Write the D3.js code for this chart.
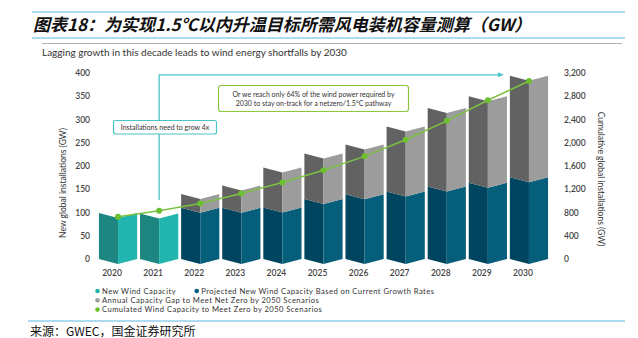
<!DOCTYPE html>
<html>
<head>
<meta charset="utf-8">
<script src="https://cdn.jsdelivr.net/npm/d3@7/dist/d3.min.js"></script>
<style>
  html, body { margin: 0; padding: 0; background: #fff; }
  svg { display: block; }
</style>
</head>
<body>
<svg id="chart" width="638" height="338"></svg>
<script>
// Years on the category axis
const years = ["2020", "2021", "2022", "2023", "2024", "2025", "2026", "2027", "2028", "2029", "2030"];
// Historical new wind installations (GW)
const newCapacity = [99, 98, 0, 0, 0, 0, 0, 0, 0, 0, 0];
// Projected new installations at current growth rates (GW)
const projected = [0, 0, 110, 110, 111, 129, 139, 145, 156, 164, 176];
// Annual gap to a net-zero-by-2050 pathway (GW)
const gap = [0, 0, 30, 48, 86, 98, 107, 140, 169, 186, 218];
// Cumulative capacity required (GW, right axis)
const cumulative = [725, 830, 956, 1128, 1317, 1526, 1766, 2051, 2377, 2731, 3063];
// Axis ticks
const leftTicks = [0, 50, 100, 150, 200, 250, 300, 350, 400];
const rightTicks = [0, 400, 800, 1200, 1600, 2000, 2400, 2800, 3200];

const svg = d3.select("#chart");
const font = 'Lato, "Open Sans", "DejaVu Sans", sans-serif';
const cjk = '"Noto Sans CJK SC", "Noto Sans", sans-serif';

// ---- header ----
svg.append("line").attr("x1", 32).attr("x2", 625).attr("y1", 12).attr("y2", 12)
  .attr("stroke", "#8fd0ef").attr("stroke-width", 1.6);
svg.append("line").attr("x1", 32).attr("x2", 625).attr("y1", 38).attr("y2", 38)
  .attr("stroke", "#8fd0ef").attr("stroke-width", 1.6);
svg.append("text").attr("x", 33).attr("y", 31)
  .attr("font-family", cjk).attr("font-size", 17).attr("font-weight", "bold")
  .attr("font-style", "italic").attr("fill", "#111")
  .text("图表18：为实现1.5℃以内升温目标所需风电装机容量测算（GW）");
svg.append("line").attr("x1", 42).attr("x2", 622).attr("y1", 43.5).attr("y2", 43.5)
  .attr("stroke", "#aab4bb").attr("stroke-width", 1);
svg.append("text").attr("x", 42).attr("y", 55.5)
  .attr("font-family", font).attr("font-size", 10).attr("fill", "#333")
  .text("Lagging growth in this decade leads to wind energy shortfalls by 2030");

// ---- scales ----
const x = d3.scaleBand().domain(years).range([97.5, 549.5]).paddingInner(0.07).paddingOuter(0.035);
const yL = d3.scaleLinear().domain([0, 400]).range([259, 73]);
const yR = d3.scaleLinear().domain([0, 3200]).range([259, 73]);
const fold = 5;

// ---- axes (labels only) ----
const axL = svg.append("g").attr("transform", "translate(90,0)")
  .call(d3.axisLeft(yL).tickValues(leftTicks).tickSize(0).tickPadding(0));
const axR = svg.append("g").attr("transform", "translate(564,0)")
  .call(d3.axisRight(yR).tickValues(rightTicks).tickSize(0).tickPadding(0)
    .tickFormat(d3.format(",")));
[axL, axR].forEach(g => {
  g.select(".domain").remove();
  g.selectAll("text").attr("font-family", font).attr("font-size", 8.5)
    .attr("fill", "#444").attr("font-weight", 600);
});
svg.append("text").attr("transform", "translate(66,183) rotate(-90)")
  .attr("text-anchor", "middle").attr("font-family", font).attr("font-size", 8.5)
  .attr("fill", "#333").text("New global installations (GW)");
svg.append("text").attr("transform", "translate(598,179) rotate(90)")
  .attr("text-anchor", "middle").attr("font-family", font).attr("font-size", 8.5)
  .attr("fill", "#333").text("Cumulative global installations (GW)");

const axX = svg.append("g").attr("transform", "translate(-6,273)")
  .call(d3.axisBottom(x).tickSize(0).tickPadding(0));
axX.select(".domain").remove();
axX.selectAll("text").attr("font-family", font).attr("font-size", 8.5)
  .attr("fill", "#444").attr("font-weight", 600).attr("dy", "0.35em");

// ---- folded bars ----
// Each segment is split into a darker left face and a lighter right face,
// with the centre crease pushed down to give a folded look.
function faces(x0, w, yTop, yBot) {
  const xc = x0 + w / 2, x1 = x0 + w;
  const left = [[x0, yTop], [xc, yTop + fold], [xc, yBot + fold], [x0, yBot]];
  const right = [[xc, yTop + fold], [x1, yTop], [x1, yBot], [xc, yBot + fold]];
  return [left, right];
}
const segs = [];
years.forEach((yr, i) => {
  const x0 = x(yr), w = x.bandwidth();
  if (newCapacity[i] > 0) {
    segs.push({ x0, w, top: newCapacity[i], base: 0, cols: ["#1d8680", "#22b5b0"] });
  }
  if (projected[i] > 0) {
    segs.push({ x0, w, top: projected[i], base: 0, cols: ["#00455f", "#055f7a"] });
    segs.push({ x0, w, top: projected[i] + gap[i], base: projected[i], cols: ["#626262", "#9c9c9c"] });
  }
});
const line = d3.line();
const gBars = svg.append("g");
segs.forEach(s => {
  const [l, r] = faces(s.x0, s.w, yL(s.top), yL(s.base));
  gBars.append("path").attr("d", line(l) + "Z").attr("fill", s.cols[0]);
  gBars.append("path").attr("d", line(r) + "Z").attr("fill", s.cols[1]);
});

// ---- cumulative line ----
const pts = years.map((yr, i) => [x(yr) + x.bandwidth() / 2, yR(cumulative[i])]);
svg.append("path").attr("d", d3.line()(pts)).attr("fill", "none")
  .attr("stroke", "#7cc242").attr("stroke-width", 1.5);
svg.append("g").selectAll("circle").data(pts).join("circle")
  .attr("cx", d => d[0]).attr("cy", d => d[1]).attr("r", 3).attr("fill", "#6cbf2f");

// ---- annotations ----
const teal = "#4cc3c7";
const cx21 = x("2021") + x.bandwidth() / 2;
const arrowEnd = x("2030") - 6;
svg.append("path")
  .attr("d", `M${cx21},${yL(127)} V${yL(396)} H${arrowEnd - 5}`)
  .attr("fill", "none").attr("stroke", teal).attr("stroke-width", 1.3);
svg.append("path")
  .attr("d", `M${arrowEnd},${yL(396)} l-6,-2.5 v5 Z`).attr("fill", teal);

svg.append("rect").attr("x", 113.5).attr("y", 120.5).attr("width", 103).attr("height", 13.5)
  .attr("rx", 2).attr("fill", "#fff").attr("stroke", teal).attr("stroke-width", 1.2);
svg.append("text").attr("x", 165).attr("y", 129.8).attr("text-anchor", "middle")
  .attr("font-family", font).attr("font-size", 7).attr("fill", "#333")
  .text("Installations need to grow 4x");

svg.append("rect").attr("x", 218.5).attr("y", 85.5).attr("width", 190).attr("height", 26)
  .attr("rx", 2.5).attr("fill", "#fff").attr("stroke", "#8cc63f").attr("stroke-width", 1.2);
svg.append("text").attr("x", 313.5).attr("y", 96.5).attr("text-anchor", "middle")
  .attr("font-family", font).attr("font-size", 7).attr("fill", "#333")
  .text("Or we reach only 64% of the wind power required by");
svg.append("text").attr("x", 313.5).attr("y", 105.5).attr("text-anchor", "middle")
  .attr("font-family", font).attr("font-size", 7).attr("fill", "#333")
  .text("2030 to stay on-track for a netzero/1.5°C pathway");

// ---- legend ----
const legend = [
  { label: "New Wind Capacity", color: "#22b5b0", x: 97.5, y: 291 },
  { label: "Projected New Wind Capacity Based on Current Growth Rates", color: "#055f7a", x: 196.7, y: 291 },
  { label: "Annual Capacity Gap to Meet Net Zero by 2050 Scenarios", color: "#9c9c9c", x: 97.5, y: 300.3 },
  { label: "Cumulated Wind Capacity to Meet Zero by 2050 Scenarios", color: "#6cbf2f", x: 97.5, y: 309.6 }
];
const lg = svg.append("g").selectAll("g").data(legend).join("g")
  .attr("transform", d => `translate(${d.x},${d.y})`);
lg.append("circle").attr("r", 2.3).attr("fill", d => d.color);
lg.append("text").attr("x", 4.5).attr("dy", "0.35em").attr("font-family", font)
  .attr("font-size", 7.6).attr("letter-spacing", 0.45).attr("fill", "#333").text(d => d.label);

// ---- footer ----
svg.append("line").attr("x1", 28).attr("x2", 625).attr("y1", 321).attr("y2", 321)
  .attr("stroke", "#5bb8e6").attr("stroke-width", 1.2);
svg.append("text").attr("x", 30).attr("y", 336)
  .attr("font-family", cjk).attr("font-size", 12).attr("fill", "#111")
  .text("来源：GWEC，国金证券研究所");
</script>
</body>
</html>
